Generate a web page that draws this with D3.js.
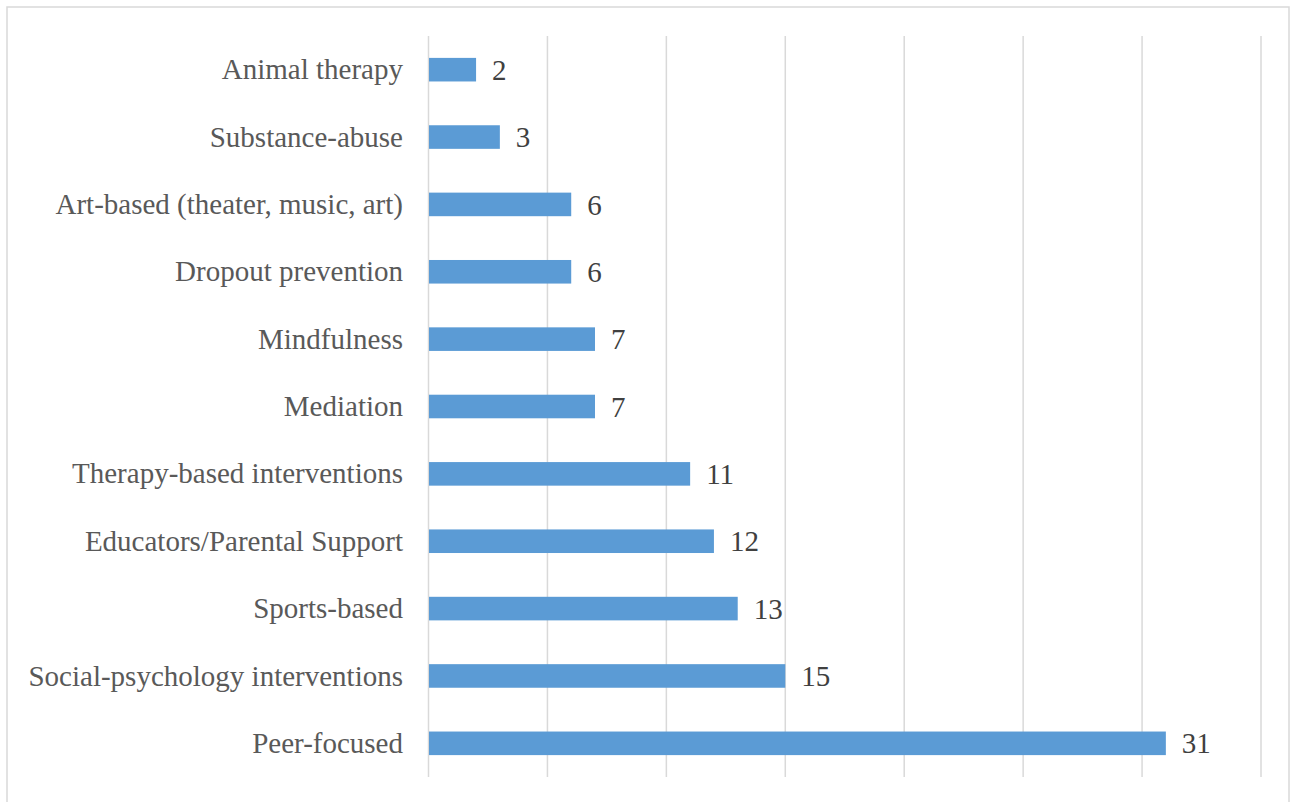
<!DOCTYPE html>
<html><head><meta charset="utf-8">
<script src="https://cdn.jsdelivr.net/npm/d3@7"></script>
<style>body{margin:0;background:#fff}svg{display:block}</style>
</head><body>
<script>
const categories = ["Animal therapy","Substance-abuse","Art-based (theater, music, art)","Dropout prevention","Mindfulness","Mediation","Therapy-based interventions","Educators/Parental Support","Sports-based","Social-psychology interventions","Peer-focused"];
const values = [2,3,6,6,7,7,11,12,13,15,31];
const xTicks = [0,5,10,15,20,25,30,35];

const W = 1291, H = 802;
const svg = d3.select("body").append("svg").attr("width", W).attr("height", H);
svg.append("rect").attr("x",7).attr("y",7).attr("width",1282).attr("height",800)
  .attr("fill","#fff").attr("stroke","#d9d9d9").attr("stroke-width",1.5);

const x = d3.scaleLinear().domain([0,35]).range([428.5,1261]);
const y = d3.scaleBand().domain(categories).range([36,777]).paddingInner(0.65).paddingOuter(0.325);

svg.append("g").selectAll("line").data(xTicks).join("line")
  .attr("x1",d=>x(d)).attr("x2",d=>x(d)).attr("y1",36).attr("y2",777)
  .attr("stroke","#d9d9d9").attr("stroke-width",1.5);

svg.append("g").selectAll("rect").data(values).join("rect")
  .attr("x",x(0)+0.5).attr("y",(d,i)=>y(categories[i]))
  .attr("width",d=>x(d)-x(0)-0.5).attr("height",y.bandwidth())
  .attr("fill","#5b9bd5");

svg.append("g").selectAll("text").data(values).join("text")
  .attr("x",d=>x(d)+16).attr("y",(d,i)=>y(categories[i])+y.bandwidth()/2)
  .attr("dy","0.35em").attr("font-family","'Liberation Serif','Times New Roman',serif")
  .attr("font-size",29).attr("fill","#404040").text(d=>d);

svg.append("g").selectAll("text").data(categories).join("text")
  .attr("x",403).attr("y",d=>y(d)+y.bandwidth()/2)
  .attr("dy","0.33em").attr("text-anchor","end")
  .attr("font-family","'Liberation Serif','Times New Roman',serif")
  .attr("font-size",29).attr("fill","#595959").text(d=>d);
</script>
</body></html>
